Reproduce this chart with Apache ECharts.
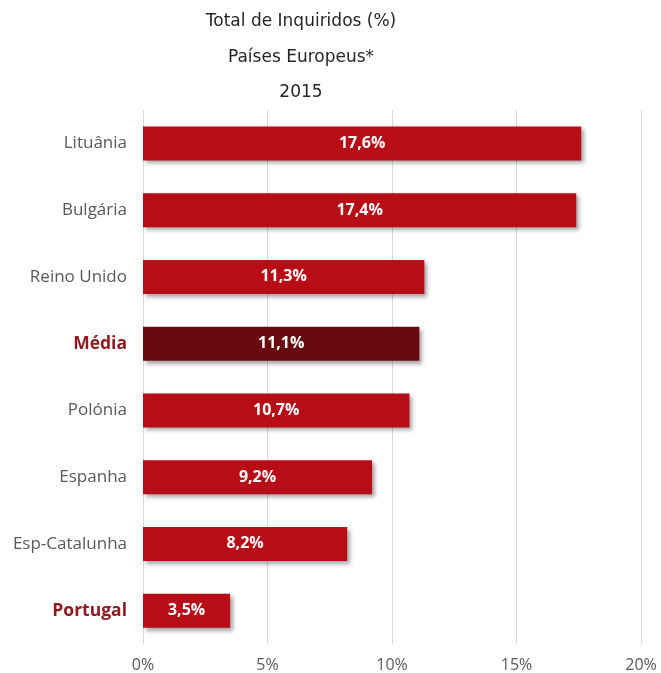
<!DOCTYPE html>
<html>
<head>
<meta charset="utf-8">
<script src="https://cdn.jsdelivr.net/npm/echarts@6/dist/echarts.min.js"></script>
<style>
  html, body { margin: 0; padding: 0; background: #fff; }
  #chart { width: 661px; height: 673px; }
</style>
</head>
<body>
<div id="chart"></div>
<script>
// Share of respondents by country, 2015
const countries = ['Lituânia', 'Bulgária', 'Reino Unido', 'Média', 'Polónia', 'Espanha', 'Esp-Catalunha', 'Portugal'];
const shares = [17.6, 17.4, 11.3, 11.1, 10.7, 9.2, 8.2, 3.5];
const titleLines = ['Total de Inquiridos (%)', 'Países Europeus*', '2015'];
const xTicks = [0, 5, 10, 15, 20];

const averageName = 'Média';
const highlightNames = ['Média', 'Portugal'];

const barRed = '#b80d16';
const barDark = '#690a10';

const chart = echarts.init(document.getElementById('chart'), null, { renderer: 'canvas' });

const fmt = v => v.toFixed(1).replace('.', ',') + '%';

chart.setOption({
  animation: false,
  backgroundColor: '#ffffff',
  // three stacked heading lines, centred over the plot
  graphic: titleLines.map((t, i) => ({
    type: 'text',
    x: 301,
    y: 22 + i * 35.5,
    style: {
      text: t,
      textAlign: 'center',
      textVerticalAlign: 'middle',
      fontFamily: 'DejaVu Sans',
      fontSize: 17,
      fill: '#262626'
    }
  })),
  grid: { left: 143, right: 20, top: 110, bottom: 28, containLabel: false },
  xAxis: {
    type: 'value',
    min: xTicks[0],
    max: xTicks[xTicks.length - 1],
    interval: 5,
    axisLine: { show: false },
    axisTick: { show: false },
    splitLine: { show: true, lineStyle: { color: '#d9d9d9', width: 1 } },
    axisLabel: {
      margin: 13,
      fontFamily: 'Open Sans',
      fontSize: 16,
      color: '#595959',
      formatter: v => v + '%'
    }
  },
  yAxis: {
    type: 'category',
    inverse: true,
    data: countries,
    axisLine: { show: false },
    axisTick: { show: false },
    splitLine: { show: false },
    axisLabel: {
      margin: 16,
      formatter: v => highlightNames.includes(v) ? '{hl|' + v + '}' : '{n|' + v + '}',
      rich: {
        n: { fontFamily: 'Open Sans', fontSize: 17, color: '#595959' },
        hl: { fontFamily: 'Open Sans', fontSize: 17.5, fontWeight: 'bold', color: '#8e1a22' }
      }
    }
  },
  series: [{
    type: 'bar',
    data: shares.map((v, i) => ({
      value: v,
      itemStyle: { color: countries[i] === averageName ? barDark : barRed }
    })),
    barWidth: 34,
    itemStyle: {
      shadowColor: 'rgba(0,0,0,0.35)',
      shadowBlur: 4,
      shadowOffsetX: 3,
      shadowOffsetY: 3
    },
    label: {
      show: true,
      position: 'inside',
      formatter: p => fmt(p.value),
      fontFamily: 'Open Sans',
      fontSize: 16,
      fontWeight: 'bold',
      color: '#ffffff'
    }
  }]
});
</script>
</body>
</html>
